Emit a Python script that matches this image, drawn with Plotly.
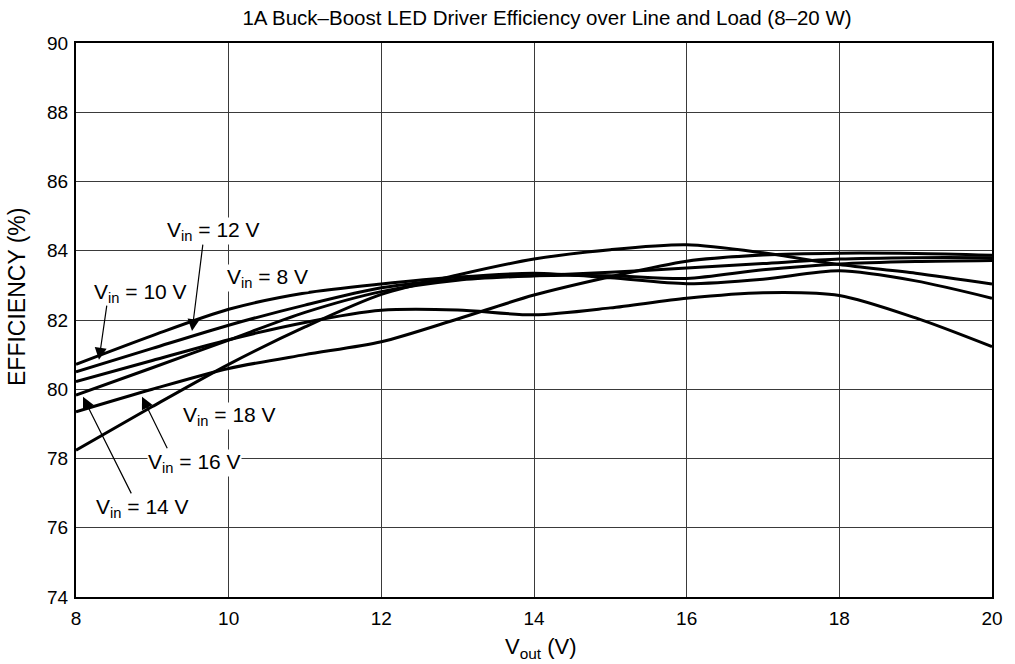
import plotly.graph_objects as go

# ---- data ----
vout = [8, 9, 10, 11, 12, 13, 14, 15, 16, 17, 18, 19, 20]
eff_vin8 = [80.22, 80.83, 81.43, 81.93, 82.28, 82.29, 82.15, 82.35, 82.63, 82.79, 82.71, 82.06, 81.23]
eff_vin10 = [80.72, 81.55, 82.31, 82.78, 83.04, 83.24, 83.35, 83.22, 83.05, 83.18, 83.42, 83.13, 82.63]
eff_vin12 = [80.50, 81.18, 81.85, 82.43, 82.93, 83.18, 83.28, 83.28, 83.20, 83.45, 83.62, 83.69, 83.72]
eff_vin14 = [79.83, 80.62, 81.42, 82.22, 82.82, 83.15, 83.28, 83.38, 83.50, 83.63, 83.76, 83.80, 83.80]
eff_vin16 = [78.24, 79.50, 80.72, 81.80, 82.74, 83.30, 83.76, 84.03, 84.17, 83.94, 83.60, 83.35, 83.04]
eff_vin18 = [79.35, 80.00, 80.60, 81.00, 81.37, 82.03, 82.72, 83.25, 83.70, 83.88, 83.93, 83.92, 83.87]

series = {
    "V<sub>in</sub> = 8 V": eff_vin8,
    "V<sub>in</sub> = 10 V": eff_vin10,
    "V<sub>in</sub> = 12 V": eff_vin12,
    "V<sub>in</sub> = 14 V": eff_vin14,
    "V<sub>in</sub> = 16 V": eff_vin16,
    "V<sub>in</sub> = 18 V": eff_vin18,
}

x_ticks = [8, 10, 12, 14, 16, 18, 20]
y_ticks = [74, 76, 78, 80, 82, 84, 86, 88, 90]

FONT = "Liberation Sans, Arial, Helvetica, sans-serif"

fig = go.Figure()
for name, vals in series.items():
    fig.add_trace(go.Scatter(
        x=vout, y=vals, mode="lines", name=name,
        line=dict(color="black", width=3, shape="spline", smoothing=0.8),
        showlegend=False,
    ))

# text labels (paper coords)
labels = [
    ("V<sub>in</sub> = 12 V", 213.5, 231),
    ("V<sub>in</sub> = 8 V", 267.5, 278),
    ("V<sub>in</sub> = 10 V", 140.5, 293),
    ("V<sub>in</sub> = 18 V", 229.5, 416),
    ("V<sub>in</sub> = 16 V", 194, 463),
    ("V<sub>in</sub> = 14 V", 142.5, 508),
]
L, R, T, B = 76, 992, 43, 597
W, H = R - L, B - T
for txt, px, py in labels:
    fig.add_annotation(
        text=txt, xref="paper", yref="paper",
        x=(px - L) / W, y=(B - py) / H,
        xanchor="center", yanchor="middle", showarrow=False,
        bgcolor="white", borderpad=0,
        font=dict(family=FONT, size=21, color="black"),
    )

# arrows: (tail x, tail y, tip x, tip y) in data coords
arrows = [
    (8.406, 82.46, 8.301, 80.85),
    (9.664, 84.22, 9.520, 81.68),
    (9.205, 78.25, 8.865, 79.78),
    (8.734, 76.95, 8.092, 79.78),
]
for tx, ty, hx, hy in arrows:
    fig.add_annotation(
        text="", x=hx, y=hy, ax=tx, ay=ty, xref="x", yref="y",
        axref="x", ayref="y", showarrow=True,
        arrowhead=2, arrowsize=2.0, arrowwidth=1.2, arrowcolor="black",
        standoff=0, startstandoff=0,
    )

# axis titles as annotations
fig.add_annotation(
    text="EFFICIENCY (%)", xref="paper", yref="paper",
    x=(17 - L) / W, y=(B - 297) / H, textangle=-90,
    xanchor="center", yanchor="middle", showarrow=False,
    font=dict(family=FONT, size=23, color="black"),
)
fig.add_annotation(
    text="V<sub>out</sub> (V)", xref="paper", yref="paper",
    x=(541 - L) / W, y=(B - 648) / H,
    xanchor="center", yanchor="middle", showarrow=False,
    font=dict(family=FONT, size=22, color="black"),
)

fig.update_layout(
    width=1015, height=664,
    margin=dict(l=L, r=1015 - R, t=T, b=664 - B),
    paper_bgcolor="white", plot_bgcolor="white",
    title=dict(
        text="1A Buck\u2013Boost LED Driver Efficiency over Line and Load (8\u201320 W)",
        x=547 / 1015, xanchor="center", xref="container",
        y=1 - 18 / 664, yanchor="middle", yref="container",
        font=dict(family=FONT, size=20.5, color="black"),
    ),
    font=dict(family=FONT, color="black"),
)
fig.update_xaxes(
    range=[8, 20], tickvals=x_ticks, ticktext=[str(v) for v in x_ticks],
    showgrid=True, gridcolor="#3a3a3a", gridwidth=1,
    showline=True, mirror=True, linecolor="black", linewidth=2,
    ticks="", ticklabelstandoff=3, zeroline=False,
    tickfont=dict(family=FONT, size=19, color="black"),
)
fig.update_yaxes(
    range=[74, 90], tickvals=y_ticks, ticktext=[str(v) for v in y_ticks],
    showgrid=True, gridcolor="#3a3a3a", gridwidth=1,
    showline=True, mirror=True, linecolor="black", linewidth=2,
    ticks="", ticklabelstandoff=2, zeroline=False,
    tickfont=dict(family=FONT, size=19, color="black"),
)

fig.write_html(
    "out.html",
    config={"displayModeBar": False},
    post_script="document.body.style.margin='0';document.body.style.overflow='hidden';",
)
